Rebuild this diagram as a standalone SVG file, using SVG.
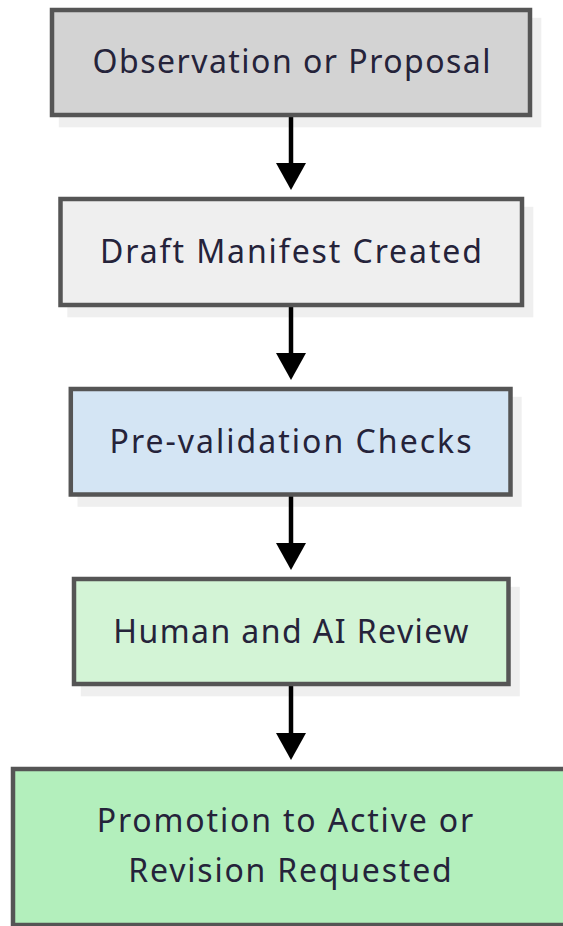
<svg xmlns="http://www.w3.org/2000/svg" width="563" height="926" viewBox="0 0 563 926">
  <style>
    .shadow { fill: #efefef; }
    .box { stroke: #555555; stroke-width: 4.5; }
    .label { font-family: "Noto Sans", "Open Sans", sans-serif; font-size: 32px; font-weight: 400; fill: #25233a; text-anchor: middle; }
    .edge { stroke: #000000; stroke-width: 4.5; fill: none; }
    .head { fill: #000000; }
  </style>

  <rect width="563" height="926" fill="#ffffff"/>

  <!-- drop shadows behind the boxes -->
  <g id="shadows">
    <rect class="shadow" x="58.8" y="17.8" width="482.5" height="109.5"/>
    <rect class="shadow" x="67.3" y="206.8" width="466" height="110.5"/>
    <rect class="shadow" x="77.5" y="396.8" width="444.2" height="110"/>
    <rect class="shadow" x="80.8" y="586.8" width="439" height="109.5"/>
  </g>

  <!-- connectors -->
  <g id="connectors">
    <line class="edge" x1="291" y1="117" x2="291" y2="166"/>
    <polygon class="head" points="276,163 306,163 291,190"/>
    <line class="edge" x1="291" y1="307" x2="291" y2="356"/>
    <polygon class="head" points="276,353 306,353 291,380"/>
    <line class="edge" x1="291" y1="496" x2="291" y2="546"/>
    <polygon class="head" points="276,543 306,543 291,570"/>
    <line class="edge" x1="291" y1="686" x2="291" y2="736"/>
    <polygon class="head" points="276,733 306,733 291,760"/>
  </g>

  <g id="observation">
    <rect class="box" x="52" y="10" width="478" height="105" fill="#d3d3d3"/>
    <text class="label" x="291.5" y="72.5" textLength="398" lengthAdjust="spacing">Observation or Proposal</text>
  </g>

  <g id="draft">
    <rect class="box" x="60.5" y="199" width="461.5" height="106" fill="#efefef"/>
    <text class="label" x="291" y="263.3" textLength="382" lengthAdjust="spacing">Draft Manifest Created</text>
  </g>

  <g id="prevalidation">
    <rect class="box" x="70.8" y="389" width="439.7" height="105.5" fill="#d4e5f4"/>
    <text class="label" x="290.5" y="452.7" textLength="362" lengthAdjust="spacing">Pre-validation Checks</text>
  </g>

  <g id="review">
    <rect class="box" x="74" y="579" width="434.5" height="105" fill="#d3f4d6"/>
    <text class="label" x="290.8" y="642.7" textLength="355" lengthAdjust="spacing">Human and AI Review</text>
  </g>

  <g id="outcome">
    <rect class="box" x="13" y="769" width="555" height="156" fill="#b3efbc"/>
    <text class="label" x="285" y="831.7" textLength="376.6" lengthAdjust="spacing">Promotion to Active or</text>
    <text class="label" x="290" y="881.7" textLength="323.4" lengthAdjust="spacing">Revision Requested</text>
  </g>
</svg>
